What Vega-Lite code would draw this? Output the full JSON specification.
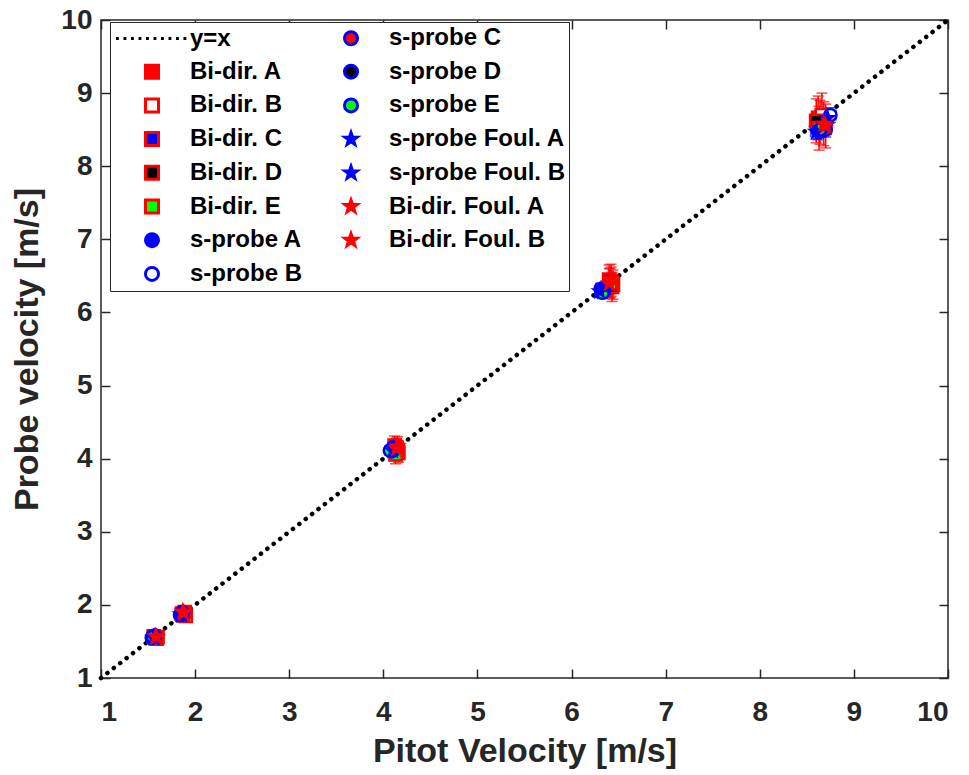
{
  "$schema": "https://vega.github.io/schema/vega-lite/v6.json",
  "width": 847,
  "height": 658,
  "autosize": {"type": "none"},
  "padding": {"left": 101, "top": 20, "right": 21, "bottom": 97},
  "background": "white",
  "config": {
    "view": {"stroke": "#262626", "strokeWidth": 1.5},
    "font": "Liberation Sans",
    "axis": {
      "labelFont": "Liberation Sans", "labelFontWeight": "bold", "labelFontSize": 28, "labelColor": "#262626",
      "titleFont": "Liberation Sans", "titleFontWeight": "bold", "titleFontSize": 34, "titleColor": "#262626",
      "grid": false, "domain": false, "tickColor": "#262626", "tickSize": -9, "tickWidth": 1.5
    },
    "legend": {
      "orient": "none", "legendX": 9, "legendY": 2, "columns": 2,
      "strokeColor": "#262626", "fillColor": "white", "padding": 4,
      "labelFont": "Liberation Sans", "labelFontWeight": "bold", "labelFontSize": 24, "labelColor": "black", "labelLimit": 300,
      "symbolSize": 170, "symbolStrokeWidth": 3, "symbolOffset": 26, "labelOffset": 26,
      "rowPadding": 7.7, "columnPadding": 10, "symbolOpacity": 1
    }
  },
  "datasets": {
    "line": [{"x": 1, "y": 1}, {"x": 10, "y": 10}],
    "pts": [
      {"s": "Bi-dir. A", "ec": "red", "x": 1.58, "y": 1.55, "xlo": 1.54, "xhi": 1.62, "ylo": 1.48, "yhi": 1.62},
      {"s": "Bi-dir. A", "ec": "red", "x": 1.88, "y": 1.86, "xlo": 1.84, "xhi": 1.92, "ylo": 1.79, "yhi": 1.93},
      {"s": "Bi-dir. A", "ec": "red", "x": 4.14, "y": 4.15, "xlo": 4.09, "xhi": 4.19, "ylo": 4.02, "yhi": 4.28},
      {"s": "Bi-dir. A", "ec": "red", "x": 6.42, "y": 6.42, "xlo": 6.36, "xhi": 6.48, "ylo": 6.22, "yhi": 6.62},
      {"s": "Bi-dir. A", "ec": "red", "x": 8.62, "y": 8.66, "xlo": 8.55, "xhi": 8.69, "ylo": 8.36, "yhi": 8.96},
      {"s": "Bi-dir. B", "ec": "red", "x": 1.60, "y": 1.56, "xlo": 1.56, "xhi": 1.64, "ylo": 1.49, "yhi": 1.63},
      {"s": "Bi-dir. B", "ec": "red", "x": 1.90, "y": 1.85, "xlo": 1.86, "xhi": 1.94, "ylo": 1.78, "yhi": 1.92},
      {"s": "Bi-dir. B", "ec": "red", "x": 4.16, "y": 4.08, "xlo": 4.11, "xhi": 4.21, "ylo": 3.95, "yhi": 4.21},
      {"s": "Bi-dir. B", "ec": "red", "x": 6.44, "y": 6.38, "xlo": 6.38, "xhi": 6.50, "ylo": 6.18, "yhi": 6.58},
      {"s": "Bi-dir. B", "ec": "red", "x": 8.66, "y": 8.70, "xlo": 8.59, "xhi": 8.73, "ylo": 8.40, "yhi": 9.00},
      {"s": "Bi-dir. C", "ec": "red", "x": 1.57, "y": 1.56, "xlo": 1.53, "xhi": 1.61, "ylo": 1.49, "yhi": 1.63},
      {"s": "Bi-dir. C", "ec": "red", "x": 1.86, "y": 1.88, "xlo": 1.82, "xhi": 1.90, "ylo": 1.81, "yhi": 1.95},
      {"s": "Bi-dir. C", "ec": "red", "x": 4.12, "y": 4.18, "xlo": 4.07, "xhi": 4.17, "ylo": 4.05, "yhi": 4.31},
      {"s": "Bi-dir. C", "ec": "red", "x": 6.40, "y": 6.45, "xlo": 6.34, "xhi": 6.46, "ylo": 6.25, "yhi": 6.65},
      {"s": "Bi-dir. C", "ec": "red", "x": 8.64, "y": 8.60, "xlo": 8.57, "xhi": 8.71, "ylo": 8.30, "yhi": 8.90},
      {"s": "Bi-dir. D", "ec": "red", "x": 1.59, "y": 1.54, "xlo": 1.55, "xhi": 1.63, "ylo": 1.47, "yhi": 1.61},
      {"s": "Bi-dir. D", "ec": "red", "x": 1.89, "y": 1.90, "xlo": 1.85, "xhi": 1.93, "ylo": 1.83, "yhi": 1.97},
      {"s": "Bi-dir. D", "ec": "red", "x": 4.15, "y": 4.12, "xlo": 4.10, "xhi": 4.20, "ylo": 3.99, "yhi": 4.25},
      {"s": "Bi-dir. D", "ec": "red", "x": 6.43, "y": 6.35, "xlo": 6.37, "xhi": 6.49, "ylo": 6.15, "yhi": 6.55},
      {"s": "Bi-dir. D", "ec": "red", "x": 8.60, "y": 8.62, "xlo": 8.53, "xhi": 8.67, "ylo": 8.32, "yhi": 8.92},
      {"s": "Bi-dir. E", "ec": "red", "x": 1.56, "y": 1.57, "xlo": 1.52, "xhi": 1.60, "ylo": 1.50, "yhi": 1.64},
      {"s": "Bi-dir. E", "ec": "red", "x": 1.87, "y": 1.87, "xlo": 1.83, "xhi": 1.91, "ylo": 1.80, "yhi": 1.94},
      {"s": "Bi-dir. E", "ec": "red", "x": 4.13, "y": 4.06, "xlo": 4.08, "xhi": 4.18, "ylo": 3.93, "yhi": 4.19},
      {"s": "Bi-dir. E", "ec": "red", "x": 6.41, "y": 6.40, "xlo": 6.35, "xhi": 6.47, "ylo": 6.20, "yhi": 6.60},
      {"s": "Bi-dir. E", "ec": "red", "x": 8.63, "y": 8.52, "xlo": 8.56, "xhi": 8.70, "ylo": 8.22, "yhi": 8.82},
      {"s": "s-probe A", "ec": "blue", "x": 1.55, "y": 1.57, "xlo": 1.52, "xhi": 1.58, "ylo": 1.53, "yhi": 1.61},
      {"s": "s-probe A", "ec": "blue", "x": 1.85, "y": 1.88, "xlo": 1.82, "xhi": 1.88, "ylo": 1.84, "yhi": 1.92},
      {"s": "s-probe A", "ec": "blue", "x": 4.08, "y": 4.12, "xlo": 4.04, "xhi": 4.12, "ylo": 4.06, "yhi": 4.18},
      {"s": "s-probe A", "ec": "blue", "x": 6.32, "y": 6.28, "xlo": 6.27, "xhi": 6.37, "ylo": 6.20, "yhi": 6.36},
      {"s": "s-probe A", "ec": "blue", "x": 8.62, "y": 8.48, "xlo": 8.56, "xhi": 8.68, "ylo": 8.38, "yhi": 8.58},
      {"s": "s-probe B", "ec": "blue", "x": 1.57, "y": 1.58, "xlo": 1.54, "xhi": 1.60, "ylo": 1.54, "yhi": 1.62},
      {"s": "s-probe B", "ec": "blue", "x": 1.86, "y": 1.90, "xlo": 1.83, "xhi": 1.89, "ylo": 1.86, "yhi": 1.94},
      {"s": "s-probe B", "ec": "blue", "x": 4.10, "y": 4.15, "xlo": 4.06, "xhi": 4.14, "ylo": 4.09, "yhi": 4.21},
      {"s": "s-probe B", "ec": "blue", "x": 6.35, "y": 6.33, "xlo": 6.30, "xhi": 6.40, "ylo": 6.25, "yhi": 6.41},
      {"s": "s-probe B", "ec": "blue", "x": 8.75, "y": 8.70, "xlo": 8.69, "xhi": 8.81, "ylo": 8.60, "yhi": 8.80},
      {"s": "s-probe C", "ec": "blue", "x": 1.56, "y": 1.56, "xlo": 1.53, "xhi": 1.59, "ylo": 1.52, "yhi": 1.60},
      {"s": "s-probe C", "ec": "blue", "x": 1.87, "y": 1.89, "xlo": 1.84, "xhi": 1.90, "ylo": 1.85, "yhi": 1.93},
      {"s": "s-probe C", "ec": "blue", "x": 4.11, "y": 4.13, "xlo": 4.07, "xhi": 4.15, "ylo": 4.07, "yhi": 4.19},
      {"s": "s-probe C", "ec": "blue", "x": 6.34, "y": 6.30, "xlo": 6.29, "xhi": 6.39, "ylo": 6.22, "yhi": 6.38},
      {"s": "s-probe C", "ec": "blue", "x": 8.70, "y": 8.50, "xlo": 8.64, "xhi": 8.76, "ylo": 8.40, "yhi": 8.60},
      {"s": "s-probe D", "ec": "blue", "x": 1.54, "y": 1.55, "xlo": 1.51, "xhi": 1.57, "ylo": 1.51, "yhi": 1.59},
      {"s": "s-probe D", "ec": "blue", "x": 1.84, "y": 1.86, "xlo": 1.81, "xhi": 1.87, "ylo": 1.82, "yhi": 1.90},
      {"s": "s-probe D", "ec": "blue", "x": 4.09, "y": 4.10, "xlo": 4.05, "xhi": 4.13, "ylo": 4.04, "yhi": 4.16},
      {"s": "s-probe D", "ec": "blue", "x": 6.31, "y": 6.32, "xlo": 6.26, "xhi": 6.36, "ylo": 6.24, "yhi": 6.40},
      {"s": "s-probe D", "ec": "blue", "x": 8.66, "y": 8.53, "xlo": 8.60, "xhi": 8.72, "ylo": 8.43, "yhi": 8.63},
      {"s": "s-probe E", "ec": "blue", "x": 1.55, "y": 1.56, "xlo": 1.52, "xhi": 1.58, "ylo": 1.52, "yhi": 1.60},
      {"s": "s-probe E", "ec": "blue", "x": 1.86, "y": 1.87, "xlo": 1.83, "xhi": 1.89, "ylo": 1.83, "yhi": 1.91},
      {"s": "s-probe E", "ec": "blue", "x": 4.07, "y": 4.11, "xlo": 4.03, "xhi": 4.11, "ylo": 4.05, "yhi": 4.17},
      {"s": "s-probe E", "ec": "blue", "x": 6.33, "y": 6.27, "xlo": 6.28, "xhi": 6.38, "ylo": 6.19, "yhi": 6.35},
      {"s": "s-probe E", "ec": "blue", "x": 8.64, "y": 8.50, "xlo": 8.58, "xhi": 8.70, "ylo": 8.40, "yhi": 8.60},
      {"s": "s-probe Foul. A", "ec": "blue", "x": 1.56, "y": 1.55, "xlo": 1.53, "xhi": 1.59, "ylo": 1.51, "yhi": 1.59},
      {"s": "s-probe Foul. A", "ec": "blue", "x": 1.85, "y": 1.87, "xlo": 1.82, "xhi": 1.88, "ylo": 1.83, "yhi": 1.91},
      {"s": "s-probe Foul. A", "ec": "blue", "x": 4.10, "y": 4.11, "xlo": 4.06, "xhi": 4.14, "ylo": 4.05, "yhi": 4.17},
      {"s": "s-probe Foul. A", "ec": "blue", "x": 6.30, "y": 6.29, "xlo": 6.25, "xhi": 6.35, "ylo": 6.21, "yhi": 6.37},
      {"s": "s-probe Foul. A", "ec": "blue", "x": 8.60, "y": 8.47, "xlo": 8.54, "xhi": 8.66, "ylo": 8.37, "yhi": 8.57},
      {"s": "s-probe Foul. B", "ec": "blue", "x": 1.57, "y": 1.56, "xlo": 1.54, "xhi": 1.60, "ylo": 1.52, "yhi": 1.60},
      {"s": "s-probe Foul. B", "ec": "blue", "x": 1.86, "y": 1.86, "xlo": 1.83, "xhi": 1.89, "ylo": 1.82, "yhi": 1.90},
      {"s": "s-probe Foul. B", "ec": "blue", "x": 4.11, "y": 4.14, "xlo": 4.07, "xhi": 4.15, "ylo": 4.08, "yhi": 4.20},
      {"s": "s-probe Foul. B", "ec": "blue", "x": 6.36, "y": 6.34, "xlo": 6.31, "xhi": 6.41, "ylo": 6.26, "yhi": 6.42},
      {"s": "s-probe Foul. B", "ec": "blue", "x": 8.72, "y": 8.66, "xlo": 8.66, "xhi": 8.78, "ylo": 8.56, "yhi": 8.76},
      {"s": "Bi-dir. Foul. A", "ec": "red", "x": 1.58, "y": 1.57, "xlo": 1.54, "xhi": 1.62, "ylo": 1.50, "yhi": 1.64},
      {"s": "Bi-dir. Foul. A", "ec": "red", "x": 1.87, "y": 1.91, "xlo": 1.83, "xhi": 1.91, "ylo": 1.84, "yhi": 1.98},
      {"s": "Bi-dir. Foul. A", "ec": "red", "x": 4.15, "y": 4.17, "xlo": 4.10, "xhi": 4.20, "ylo": 4.04, "yhi": 4.30},
      {"s": "Bi-dir. Foul. A", "ec": "red", "x": 6.42, "y": 6.46, "xlo": 6.36, "xhi": 6.48, "ylo": 6.26, "yhi": 6.66},
      {"s": "Bi-dir. Foul. A", "ec": "red", "x": 8.68, "y": 8.58, "xlo": 8.61, "xhi": 8.75, "ylo": 8.28, "yhi": 8.88},
      {"s": "Bi-dir. Foul. B", "ec": "red", "x": 1.59, "y": 1.56, "xlo": 1.55, "xhi": 1.63, "ylo": 1.49, "yhi": 1.63},
      {"s": "Bi-dir. Foul. B", "ec": "red", "x": 1.88, "y": 1.89, "xlo": 1.84, "xhi": 1.92, "ylo": 1.82, "yhi": 1.96},
      {"s": "Bi-dir. Foul. B", "ec": "red", "x": 4.14, "y": 4.14, "xlo": 4.09, "xhi": 4.19, "ylo": 4.01, "yhi": 4.27},
      {"s": "Bi-dir. Foul. B", "ec": "red", "x": 6.40, "y": 6.40, "xlo": 6.34, "xhi": 6.46, "ylo": 6.20, "yhi": 6.60},
      {"s": "Bi-dir. Foul. B", "ec": "red", "x": 8.70, "y": 8.55, "xlo": 8.63, "xhi": 8.77, "ylo": 8.25, "yhi": 8.85}
    ]
  },
  "layer": [
    {
      "data": {"name": "line"},
      "mark": {"type": "line", "color": "black", "strokeWidth": 4.5, "strokeDash": [0.1, 8], "strokeCap": "round"},
      "encoding": {
        "x": {"field": "x", "type": "quantitative", "scale": {"domain": [1, 10], "nice": false, "zero": false},
              "axis": {"orient": "top", "labels": false, "title": null, "values": [1,2,3,4,5,6,7,8,9,10]}},
        "y": {"field": "y", "type": "quantitative", "scale": {"domain": [1, 10], "nice": false, "zero": false},
              "axis": {"orient": "right", "labels": false, "title": null, "values": [1,2,3,4,5,6,7,8,9,10]}}
      }
    },
    {
      "data": {"name": "pts"},
      "mark": {"type": "rule", "strokeWidth": 1.5},
      "encoding": {
        "x": {"field": "x", "type": "quantitative", "axis": null},
        "y": {"field": "ylo", "type": "quantitative", "axis": null},
        "y2": {"field": "yhi"},
        "color": {"field": "ec", "type": "nominal", "scale": null}
      }
    },
    {
      "data": {"name": "pts"},
      "mark": {"type": "tick", "orient": "horizontal", "size": 11, "thickness": 1.5},
      "encoding": {
        "x": {"field": "x", "type": "quantitative", "axis": null},
        "y": {"field": "ylo", "type": "quantitative", "axis": null},
        "color": {"field": "ec", "type": "nominal", "scale": null}
      }
    },
    {
      "data": {"name": "pts"},
      "mark": {"type": "tick", "orient": "horizontal", "size": 11, "thickness": 1.5},
      "encoding": {
        "x": {"field": "x", "type": "quantitative", "axis": null},
        "y": {"field": "yhi", "type": "quantitative", "axis": null},
        "color": {"field": "ec", "type": "nominal", "scale": null}
      }
    },
    {
      "data": {"name": "pts"},
      "mark": {"type": "rule", "strokeWidth": 1.5},
      "encoding": {
        "y": {"field": "y", "type": "quantitative", "axis": null},
        "x": {"field": "xlo", "type": "quantitative", "axis": null},
        "x2": {"field": "xhi"},
        "color": {"field": "ec", "type": "nominal", "scale": null}
      }
    },
    {
      "data": {"name": "pts"},
      "mark": {"type": "tick", "orient": "vertical", "size": 11, "thickness": 1.5},
      "encoding": {
        "x": {"field": "xlo", "type": "quantitative", "axis": null},
        "y": {"field": "y", "type": "quantitative", "axis": null},
        "color": {"field": "ec", "type": "nominal", "scale": null}
      }
    },
    {
      "data": {"name": "pts"},
      "mark": {"type": "tick", "orient": "vertical", "size": 11, "thickness": 1.5},
      "encoding": {
        "x": {"field": "xhi", "type": "quantitative", "axis": null},
        "y": {"field": "y", "type": "quantitative", "axis": null},
        "color": {"field": "ec", "type": "nominal", "scale": null}
      }
    },
    {
      "data": {"name": "pts"},
      "mark": {"type": "point", "size": 150, "strokeWidth": 2.5, "opacity": 1, "fillOpacity": 1, "strokeOpacity": 1},
      "encoding": {
        "x": {"field": "x", "type": "quantitative",
              "axis": {"orient": "bottom", "title": "Pitot Velocity [m/s]", "values": [1,2,3,4,5,6,7,8,9,10], "labelPadding": 29, "titlePadding": 8}},
        "y": {"field": "y", "type": "quantitative",
              "axis": {"orient": "left", "title": "Probe velocity [m/s]", "values": [1,2,3,4,5,6,7,8,9,10], "labelPadding": 18, "titlePadding": 16}},
        "shape": {"field": "s", "type": "nominal", "legend": {"title": null},
          "scale": {
            "domain": ["y=x", "Bi-dir. A", "Bi-dir. B", "Bi-dir. C", "Bi-dir. D", "Bi-dir. E", "s-probe A", "s-probe B", "s-probe C", "s-probe D", "s-probe E", "s-probe Foul. A", "s-probe Foul. B", "Bi-dir. Foul. A", "Bi-dir. Foul. B"],
            "range": [
              "M-5.52,-0.22h0.44v0.44h-0.44z M-4.37,-0.22h0.44v0.44h-0.44z M-3.22,-0.22h0.44v0.44h-0.44z M-2.07,-0.22h0.44v0.44h-0.44z M-0.92,-0.22h0.44v0.44h-0.44z M0.23,-0.22h0.44v0.44h-0.44z M1.38,-0.22h0.44v0.44h-0.44z M2.53,-0.22h0.44v0.44h-0.44z M3.68,-0.22h0.44v0.44h-0.44z M4.83,-0.22h0.44v0.44h-0.44z",
              "square", "square", "square", "square", "square",
              "circle", "circle", "circle", "circle", "circle",
              "M0,-1L0.235,-0.324L0.951,-0.309L0.380,0.124L0.588,0.809L0,0.4L-0.588,0.809L-0.380,0.124L-0.951,-0.309L-0.235,-0.324Z",
              "M0,-1L0.235,-0.324L0.951,-0.309L0.380,0.124L0.588,0.809L0,0.4L-0.588,0.809L-0.380,0.124L-0.951,-0.309L-0.235,-0.324Z",
              "M0,-1L0.235,-0.324L0.951,-0.309L0.380,0.124L0.588,0.809L0,0.4L-0.588,0.809L-0.380,0.124L-0.951,-0.309L-0.235,-0.324Z",
              "M0,-1L0.235,-0.324L0.951,-0.309L0.380,0.124L0.588,0.809L0,0.4L-0.588,0.809L-0.380,0.124L-0.951,-0.309L-0.235,-0.324Z"
            ]
          }
        },
        "fill": {"field": "s", "type": "nominal", "legend": {"title": null},
          "scale": {
            "domain": ["y=x", "Bi-dir. A", "Bi-dir. B", "Bi-dir. C", "Bi-dir. D", "Bi-dir. E", "s-probe A", "s-probe B", "s-probe C", "s-probe D", "s-probe E", "s-probe Foul. A", "s-probe Foul. B", "Bi-dir. Foul. A", "Bi-dir. Foul. B"],
            "range": ["black", "#ff0000", "white", "#0000ff", "black", "#00ff00", "#0000ff", "white", "#ff0000", "black", "#00ff00", "#0000ff", "#0000ff", "#ff0000", "#ff0000"]
          }
        },
        "stroke": {"field": "s", "type": "nominal", "legend": {"title": null},
          "scale": {
            "domain": ["y=x", "Bi-dir. A", "Bi-dir. B", "Bi-dir. C", "Bi-dir. D", "Bi-dir. E", "s-probe A", "s-probe B", "s-probe C", "s-probe D", "s-probe E", "s-probe Foul. A", "s-probe Foul. B", "Bi-dir. Foul. A", "Bi-dir. Foul. B"],
            "range": ["transparent", "#ff0000", "#ff0000", "#ff0000", "#ff0000", "#ff0000", "#0000ff", "#0000ff", "#0000ff", "#0000ff", "#0000ff", "#0000ff", "#0000ff", "#ff0000", "#ff0000"]
          }
        }
      }
    }
  ],
  "resolve": {"axis": {"x": "independent", "y": "independent"}}
}
